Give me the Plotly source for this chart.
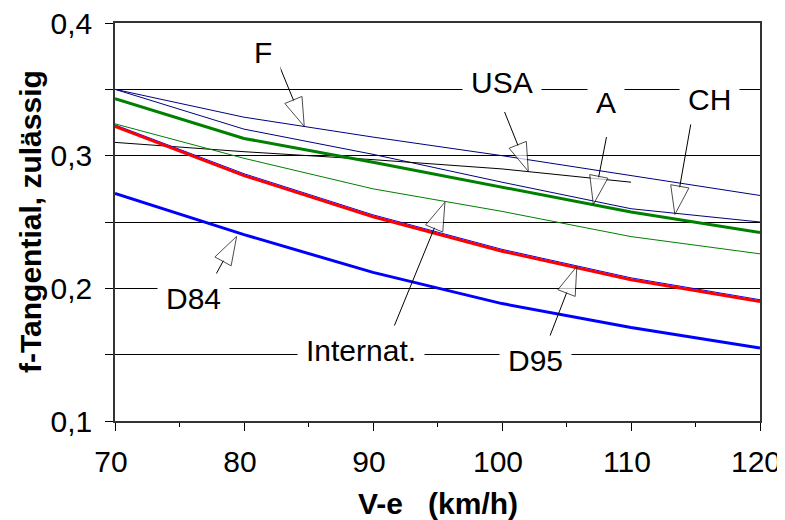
import plotly.graph_objects as go

# ---------------- data ----------------
speed = [70, 80, 90, 100, 110, 120]
usa_speed = [70, 80, 90, 100, 110]

f_values = [0.350, 0.329, 0.314, 0.300, 0.285, 0.270]
a_values = [0.350, 0.320, 0.301, 0.280, 0.260, 0.250]
usa_values = [0.310, 0.303, 0.297, 0.290, 0.280]
ch_values = [0.343, 0.313, 0.295, 0.276, 0.2575, 0.242]
internat_values = [0.324, 0.298, 0.275, 0.258, 0.239, 0.226]
d95_blue_values = [0.3232, 0.2864, 0.2554, 0.2294, 0.2079, 0.1914]
d95_values = [0.322, 0.285, 0.254, 0.228, 0.2065, 0.190]
d84_values = [0.2715, 0.2405, 0.212, 0.1885, 0.1705, 0.155]

y_tick_vals = [0.10, 0.15, 0.20, 0.25, 0.30, 0.35, 0.40]
y_tick_text = ["0,1", "", "0,2", "", "0,3", "", "0,4"]
x_tick_vals = [70, 80, 90, 100, 110, 120]
x_tick_text = ["70", "80", "90", "100", "110", "120"]

labels = ["F", "USA", "A", "CH", "D84", "Internat.", "D95"]
label_x = [81.5, 100.0, 108.1, 116.1, 76.1, 89.1, 102.6]
label_y = [0.378, 0.355, 0.3398, 0.3425, 0.192, 0.153, 0.1455]
tail_x = [82.6, 100.2, 108.1, 114.65, 77.6, 91.45, 103.6]
tail_y = [0.3711, 0.3329, 0.314, 0.3246, 0.2065, 0.167, 0.1612]
tip_x = [84.67, 102.04, 107.08, 113.4, 79.43, 95.58, 105.8]
tip_y = [0.3221, 0.2882, 0.2633, 0.2557, 0.2392, 0.265, 0.2165]

x_title = "<b>V-e   (km/h)</b>"
y_title = "<b>f-Tangential, zulässig</b>"

FONT = "Arial, Liberation Sans, sans-serif"

fig = go.Figure()

def add_line(xs, ys, color, width):
    fig.add_trace(go.Scatter(x=xs, y=ys, mode="lines",
                             line=dict(color=color, width=width),
                             hoverinfo="skip", showlegend=False))

add_line(speed, f_values, "#000080", 1)
add_line(speed, a_values, "#000080", 1)
add_line(usa_speed, usa_values, "#000000", 1)
add_line(speed, internat_values, "#008000", 1)
add_line(speed, ch_values, "#008000", 3)
add_line(speed, d95_blue_values, "#0000FF", 1)
add_line(speed, d95_values, "#FF0000", 3)
add_line(speed, d84_values, "#0000FF", 3)

# arrows: shaft + white filled triangle head at the tip
for i in range(len(labels)):
    fig.add_trace(go.Scatter(
        x=[tail_x[i], tip_x[i]], y=[tail_y[i], tip_y[i]],
        mode="lines+markers",
        line=dict(color="black", width=1),
        marker=dict(symbol="arrow", size=[0, 30], angleref="previous",
                    color="white", line=dict(color="black", width=1)),
        hoverinfo="skip", showlegend=False))

for i in range(len(labels)):
    fig.add_annotation(x=label_x[i], y=label_y[i], text=labels[i],
                       showarrow=False, xref="x", yref="y",
                       font=dict(family=FONT, size=30, color="black"),
                       bgcolor="white", borderpad=8,
                       xanchor="center", yanchor="middle")

# axis titles
fig.add_annotation(x=0.5, y=0, xref="paper", yref="paper", text=x_title,
                   showarrow=False, xanchor="center", yanchor="middle",
                   yshift=-82, font=dict(family=FONT, size=30, color="black"))
fig.add_annotation(x=0, y=0.5, xref="paper", yref="paper", text=y_title,
                   showarrow=False, xanchor="center", yanchor="middle",
                   textangle=-90, xshift=-85,
                   font=dict(family=FONT, size=30, color="black"))

# page body has an 8px margin: figure is sized so the plot area lands at
# x 115..760, y 23..421 of the 785x520 window
fig.update_layout(
    width=777, height=512,
    margin=dict(l=107, r=25, t=15, b=99, autoexpand=False),
    paper_bgcolor="white", plot_bgcolor="white",
    showlegend=False,
    font=dict(family=FONT, size=30, color="black"),
    xaxis=dict(range=[70, 120], tickvals=x_tick_vals, ticktext=x_tick_text,
               ticks="outside", ticklen=8, tickcolor="black", tickwidth=1,
               minor=dict(dtick=5, tick0=70, ticks="outside", ticklen=4,
                          tickcolor="black", tickwidth=1, showgrid=False),
               showgrid=False, zeroline=False, automargin=False,
               showline=True, linecolor="#333333", linewidth=1.5, mirror=True,
               tickfont=dict(family=FONT, size=30),
               ticklabelstandoff=5, ticklabelshift=-4,
               ticklabeloverflow="allow"),
    xaxis2=dict(range=[70, 120], overlaying="x", anchor="y", side="bottom",
                tickvals=x_tick_vals, showticklabels=False,
                ticks="inside", ticklen=8, tickcolor="black", tickwidth=1,
                minor=dict(dtick=5, tick0=70, ticks="inside", ticklen=4,
                           tickcolor="black", tickwidth=1, showgrid=False),
                showgrid=False, zeroline=False, showline=False,
                automargin=False),
    yaxis=dict(range=[0.1, 0.4], tickvals=y_tick_vals, ticktext=y_tick_text,
               ticks="outside", ticklen=8, tickcolor="black", tickwidth=1,
               showgrid=True, gridcolor="black", gridwidth=1, zeroline=False,
               showline=True, linecolor="#333333", linewidth=1.5, mirror=True,
               tickfont=dict(family=FONT, size=30), automargin=False,
               ticklabelstandoff=7, ticklabeloverflow="allow"),
)

fig.write_html("out.html")
